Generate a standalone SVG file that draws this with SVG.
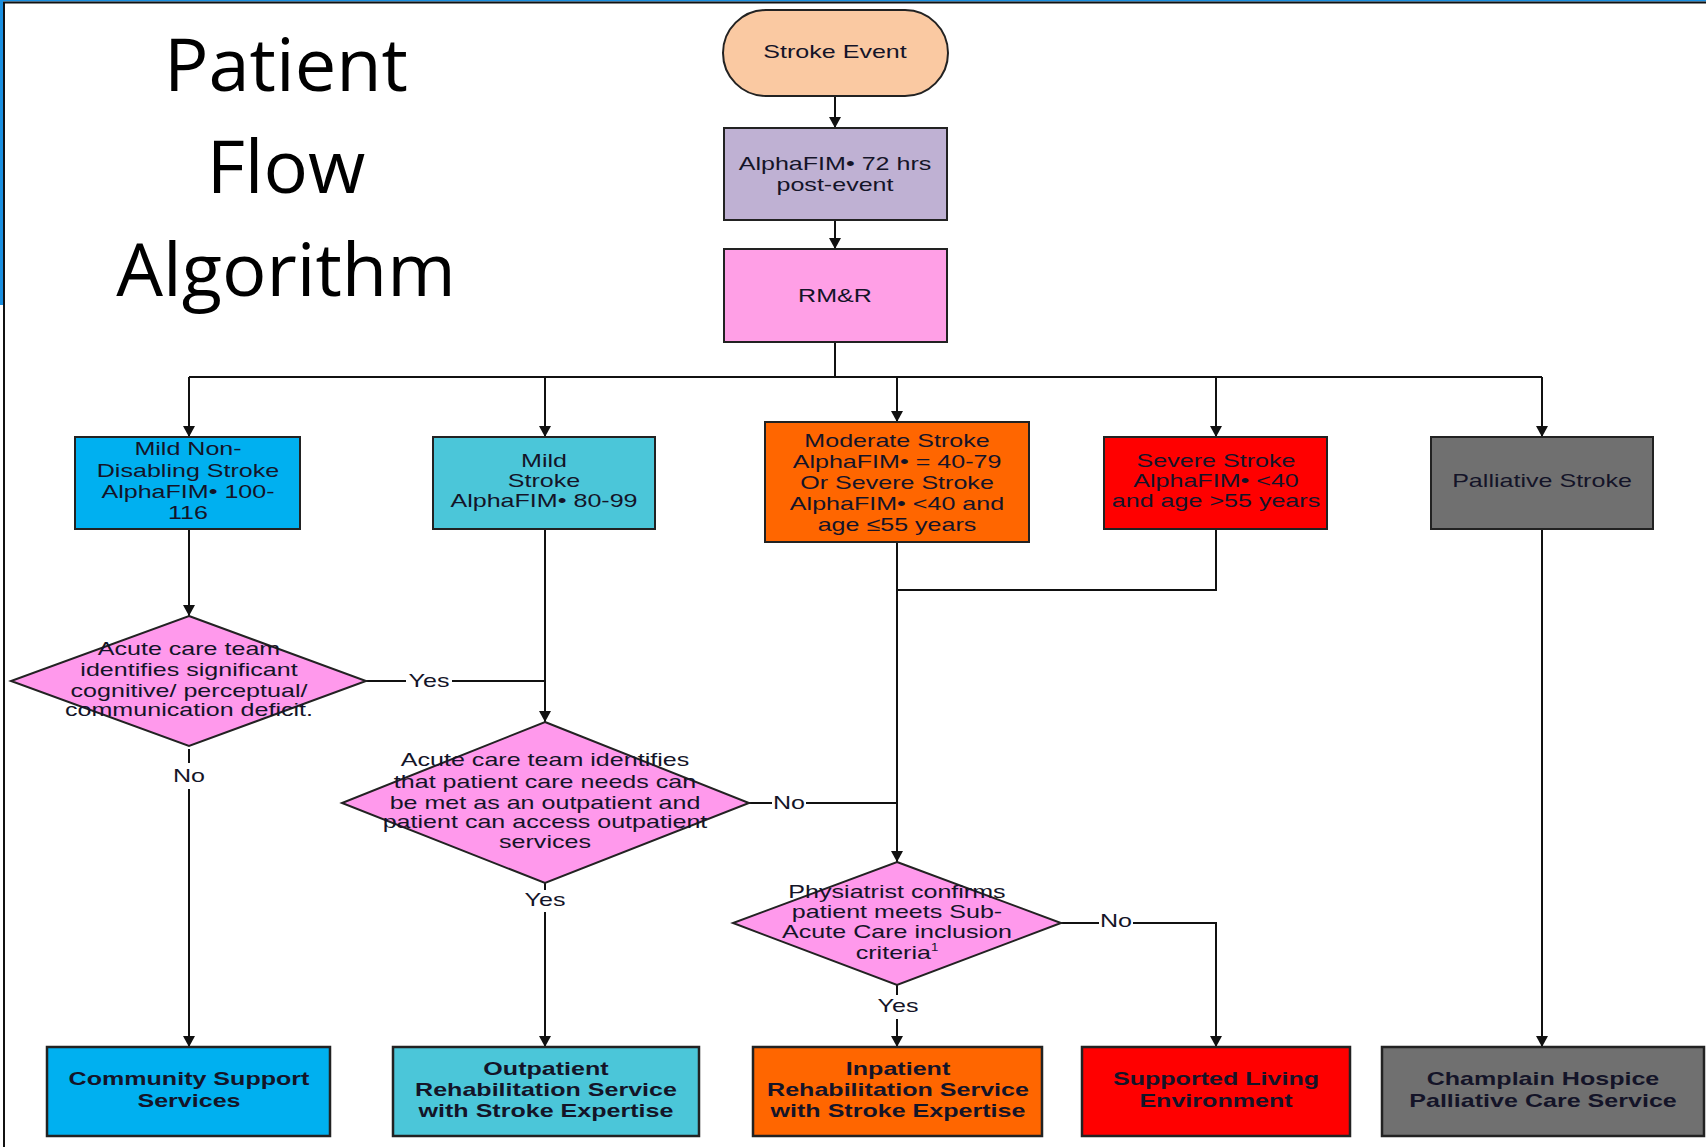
<svg xmlns="http://www.w3.org/2000/svg" width="1706" height="1147" viewBox="0 0 1706 1147">
<defs>
<marker id="arr" markerUnits="userSpaceOnUse" markerWidth="12" markerHeight="12" refX="11" refY="6" orient="auto">
<path d="M0,0 L11,6 L0,12 z" fill="#111"/>
</marker>
<style>
.box{stroke:#222;stroke-width:2}
.bot{stroke:#222;stroke-width:2.5}
.t{font-family:"Liberation Sans",Arial,sans-serif;font-size:19px;fill:#141428;text-anchor:middle}
.b{font-weight:bold}
.c{fill:none;stroke:#111;stroke-width:2}
.title{font-family:"Open Sans","Noto Sans",sans-serif;font-size:74px;fill:#000;text-anchor:middle}
</style>
</defs>
<rect width="1706" height="1147" fill="#fff"/>
<g id="frame">
<rect x="0" y="0" width="1706" height="1.5" fill="#1a8fe0"/>
<rect x="0" y="0" width="3" height="305" fill="#1a8fe0"/>
<line x1="3" y1="2.5" x2="1706" y2="2.5" stroke="#111" stroke-width="2"/>
<line x1="4" y1="2" x2="4" y2="1147" stroke="#111" stroke-width="2"/>
</g>
<g id="title">
<text class="title" x="286" y="91">Patient</text>
<text class="title" x="286" y="193">Flow</text>
<text class="title" x="286" y="296">Algorithm</text>
</g>
<g id="connectors">
<line class="c" x1="835" y1="96" x2="835" y2="128" marker-end="url(#arr)"/>
<line class="c" x1="835" y1="220" x2="835" y2="249" marker-end="url(#arr)"/>
<polyline class="c" points="835,342 835,377"/>
<line class="c" x1="189" y1="377" x2="1542" y2="377"/>
<line class="c" x1="189" y1="377" x2="189" y2="437" marker-end="url(#arr)"/>
<line class="c" x1="545" y1="377" x2="545" y2="437" marker-end="url(#arr)"/>
<line class="c" x1="897" y1="377" x2="897" y2="422" marker-end="url(#arr)"/>
<line class="c" x1="1216" y1="377" x2="1216" y2="437" marker-end="url(#arr)"/>
<line class="c" x1="1542" y1="377" x2="1542" y2="437" marker-end="url(#arr)"/>
<line class="c" x1="189" y1="529" x2="189" y2="616" marker-end="url(#arr)"/>
<line class="c" x1="545" y1="529" x2="545" y2="722" marker-end="url(#arr)"/>
<line class="c" x1="366" y1="681" x2="406" y2="681"/>
<line class="c" x1="452" y1="681" x2="545" y2="681"/>
<line class="c" x1="189" y1="749" x2="189" y2="763"/>
<line class="c" x1="189" y1="789" x2="189" y2="1047" marker-end="url(#arr)"/>
<line class="c" x1="897" y1="542" x2="897" y2="862" marker-end="url(#arr)"/>
<polyline class="c" points="1216,529 1216,590 897,590"/>
<line class="c" x1="749" y1="803" x2="772" y2="803"/>
<line class="c" x1="806" y1="803" x2="897" y2="803"/>
<line class="c" x1="545" y1="883" x2="545" y2="890"/>
<line class="c" x1="545" y1="912" x2="545" y2="1047" marker-end="url(#arr)"/>
<line class="c" x1="1061" y1="923" x2="1099" y2="923"/>
<polyline class="c" points="1133,923 1216,923 1216,1047" marker-end="url(#arr)"/>
<line class="c" x1="897" y1="985" x2="897" y2="995"/>
<line class="c" x1="897" y1="1019" x2="897" y2="1047" marker-end="url(#arr)"/>
<line class="c" x1="1542" y1="529" x2="1542" y2="1047" marker-end="url(#arr)"/>
</g>
<g id="labels">
<text class="t" transform="translate(429 0) scale(1.32 1)" x="0" y="687">Yes</text>
<text class="t" transform="translate(189 0) scale(1.32 1)" x="0" y="782">No</text>
<text class="t" transform="translate(789 0) scale(1.32 1)" x="0" y="809">No</text>
<text class="t" transform="translate(545 0) scale(1.32 1)" x="0" y="906">Yes</text>
<text class="t" transform="translate(1116 0) scale(1.32 1)" x="0" y="927">No</text>
<text class="t" transform="translate(898 0) scale(1.32 1)" x="0" y="1012">Yes</text>
</g>
<g id="stroke-event">
<rect class="box" x="723" y="10" width="225" height="86" rx="43" ry="43" fill="#FAC9A2"/>
<text class="t" transform="translate(835 0) scale(1.32 1)" x="0" y="58">Stroke Event</text>
</g>
<g id="alphafim">
<rect class="box" x="724" y="128" width="223" height="92" fill="#BFB1D3"/>
<text class="t" transform="translate(835 0) scale(1.32 1)"><tspan x="0" y="170">AlphaFIM• 72 hrs</tspan><tspan x="0" y="191">post-event</tspan></text>
</g>
<g id="rmr">
<rect class="box" x="724" y="249" width="223" height="93" fill="#FF9FE6"/>
<text class="t" transform="translate(835 0) scale(1.32 1)" x="0" y="302">RM&amp;R</text>
</g>
<g id="mild-non-disabling">
<rect class="box" x="75" y="437" width="225" height="92" fill="#00B0F0"/>
<text class="t" transform="translate(188 0) scale(1.32 1)"><tspan x="0" y="455">Mild Non-</tspan><tspan x="0" y="477">Disabling Stroke</tspan><tspan x="0" y="498">AlphaFIM• 100-</tspan><tspan x="0" y="519">116</tspan></text>
</g>
<g id="mild-stroke">
<rect class="box" x="433" y="437" width="222" height="92" fill="#4BC6D9"/>
<text class="t" transform="translate(544 0) scale(1.32 1)"><tspan x="0" y="467">Mild</tspan><tspan x="0" y="487">Stroke</tspan><tspan x="0" y="507">AlphaFIM• 80-99</tspan></text>
</g>
<g id="moderate-stroke">
<rect class="box" x="765" y="422" width="264" height="120" fill="#FF6600"/>
<text class="t" transform="translate(897 0) scale(1.32 1)"><tspan x="0" y="447">Moderate Stroke</tspan><tspan x="0" y="468">AlphaFIM• = 40-79</tspan><tspan x="0" y="489">Or Severe Stroke</tspan><tspan x="0" y="510">AlphaFIM• &lt;40 and</tspan><tspan x="0" y="531">age ≤55 years</tspan></text>
</g>
<g id="severe-stroke">
<rect class="box" x="1104" y="437" width="223" height="92" fill="#FF0000"/>
<text class="t" transform="translate(1216 0) scale(1.32 1)"><tspan x="0" y="467">Severe Stroke</tspan><tspan x="0" y="487">AlphaFIM• &lt;40</tspan><tspan x="0" y="507">and age &gt;55 years</tspan></text>
</g>
<g id="palliative-stroke">
<rect class="box" x="1431" y="437" width="222" height="92" fill="#707070"/>
<text class="t" transform="translate(1542 0) scale(1.32 1)" x="0" y="487">Palliative Stroke</text>
</g>
<g id="decision-cognitive">
<polygon class="box" points="189,616 366,681 189,746 11,681" fill="#FF99EC"/>
<text class="t" transform="translate(189 0) scale(1.32 1)"><tspan x="0" y="655">Acute care team</tspan><tspan x="0" y="676">identifies significant</tspan><tspan x="0" y="697">cognitive/ perceptual/</tspan><tspan x="0" y="716">communication deficit.</tspan></text>
</g>
<g id="decision-outpatient">
<polygon class="box" points="545,722 749,803 545,883 342,803" fill="#FF99EC"/>
<text class="t" transform="translate(545 0) scale(1.32 1)"><tspan x="0" y="766">Acute care team identifies</tspan><tspan x="0" y="788">that patient care needs can</tspan><tspan x="0" y="809">be met as an outpatient and</tspan><tspan x="0" y="828">patient can access outpatient</tspan><tspan x="0" y="848">services</tspan></text>
</g>
<g id="decision-physiatrist">
<polygon class="box" points="897,862 1061,923 897,985 733,923" fill="#FF99EC"/>
<text class="t" transform="translate(897 0) scale(1.32 1)"><tspan x="0" y="898">Physiatrist confirms</tspan><tspan x="0" y="918">patient meets Sub-</tspan><tspan x="0" y="938">Acute Care inclusion</tspan><tspan x="0" y="959">criteria<tspan font-size="10" dy="-8">1</tspan></tspan></text>
</g>
<g id="community-support">
<rect class="bot" x="47" y="1047" width="283" height="89" fill="#00B0F0"/>
<text class="t b" transform="translate(189 0) scale(1.32 1)"><tspan x="0" y="1085">Community Support</tspan><tspan x="0" y="1107">Services</tspan></text>
</g>
<g id="outpatient-rehab">
<rect class="bot" x="393" y="1047" width="306" height="89" fill="#4BC6D9"/>
<text class="t b" transform="translate(546 0) scale(1.32 1)"><tspan x="0" y="1075">Outpatient</tspan><tspan x="0" y="1096">Rehabilitation Service</tspan><tspan x="0" y="1117">with Stroke Expertise</tspan></text>
</g>
<g id="inpatient-rehab">
<rect class="bot" x="753" y="1047" width="289" height="89" fill="#FF6600"/>
<text class="t b" transform="translate(898 0) scale(1.32 1)"><tspan x="0" y="1075">Inpatient</tspan><tspan x="0" y="1096">Rehabilitation Service</tspan><tspan x="0" y="1117">with Stroke Expertise</tspan></text>
</g>
<g id="supported-living">
<rect class="bot" x="1082" y="1047" width="268" height="89" fill="#FF0000"/>
<text class="t b" transform="translate(1216 0) scale(1.32 1)"><tspan x="0" y="1085">Supported Living</tspan><tspan x="0" y="1107">Environment</tspan></text>
</g>
<g id="champlain-hospice">
<rect class="bot" x="1382" y="1047" width="322" height="89" fill="#707070"/>
<text class="t b" transform="translate(1543 0) scale(1.32 1)"><tspan x="0" y="1085">Champlain Hospice</tspan><tspan x="0" y="1107">Palliative Care Service</tspan></text>
</g>
</svg>
